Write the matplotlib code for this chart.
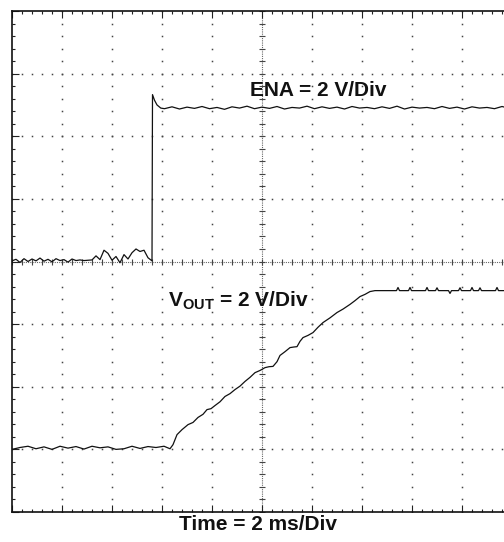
import numpy as np
import matplotlib
matplotlib.use("Agg")
import matplotlib.pyplot as plt

plt.rcParams['font.family'] = ['Liberation Sans', 'DejaVu Sans']
plt.rcParams['mathtext.fontset'] = 'custom'
plt.rcParams['mathtext.rm'] = 'Liberation Sans:bold'
plt.rcParams['mathtext.bf'] = 'Liberation Sans:bold'

# ---- data (time in ms, voltage in V) ----
ena_time = [0.00, 0.16, 0.32, 0.48, 0.64, 0.80, 0.96, 1.12, 1.28, 1.44,
            1.60, 1.76, 1.92, 2.08, 2.24, 2.40, 2.56, 2.72, 2.88, 3.04,
            3.20, 3.36, 3.52, 3.68, 3.84, 4.00, 4.16, 4.32, 4.48, 4.64,
            4.80, 4.96, 5.12, 5.28, 5.44, 5.60,
            5.62, 5.70, 5.80, 5.95,
            6.1, 6.4, 6.7, 7.0, 7.3, 7.6, 7.9, 8.2,
            8.5, 8.8, 9.1, 9.4, 9.7, 10.0, 10.3, 10.6,
            10.9, 11.2, 11.5, 11.8, 12.1, 12.4, 12.7, 13.0,
            13.3, 13.6, 13.9, 14.2, 14.5, 14.8, 15.1, 15.4,
            15.7, 16.0, 16.3, 16.6, 16.9, 17.2, 17.5, 17.8,
            18.1, 18.4, 18.7, 19.0, 19.3, 19.6, 19.9, 20.2]
ena_volt = [0.02, 0.07, -0.03, 0.09, 0.00, 0.08, 0.02, 0.11, 0.01, 0.07,
            -0.01, 0.09, 0.03, 0.06, -0.02, 0.08, 0.03, 0.05, 0.03, 0.04,
            0.05, 0.18, 0.06, 0.36, 0.26, 0.04, 0.16, -0.04, 0.22, 0.08,
            0.28, 0.40, 0.32, 0.36, 0.12, 0.02,
            5.33, 5.15, 5.00, 4.90,
            4.88, 4.94, 4.87, 4.93, 4.89, 4.95, 4.88, 4.92,
            4.86, 4.94, 4.90, 4.96, 4.88, 4.93, 4.89, 4.95,
            4.87, 4.92, 4.90, 4.96, 4.88, 4.94, 4.89, 4.93,
            4.87, 4.95, 4.90, 4.92, 4.88, 4.94, 4.89, 4.96,
            4.87, 4.93, 4.90, 4.92, 4.88, 4.95, 4.89, 4.93,
            4.87, 4.94, 4.90, 4.92, 4.88, 4.95, 4.89, 4.93]

vout_time = [0.00, 0.32, 0.64, 0.96, 1.28, 1.60, 1.92, 2.24, 2.56, 2.88,
             3.20, 3.52, 3.84, 4.16, 4.48, 4.80, 5.12, 5.44, 5.76, 6.08,
             6.32, 6.44, 6.60, 6.80, 7.04, 7.24, 7.44, 7.64, 7.80, 7.96,
             8.12, 8.32, 8.52, 8.72, 8.92, 9.12, 9.32, 9.52, 9.72, 9.92,
             10.12, 10.28, 10.44, 10.60, 10.72, 10.92, 11.12, 11.28, 11.40, 11.52,
             11.64, 11.84, 12.04, 12.24, 12.44, 12.72, 13.00, 13.24, 13.52, 13.72,
             13.92, 14.12, 14.32, 14.52,
             15.38, 15.44, 15.50, 15.86, 15.92, 15.98, 16.54, 16.60, 16.66,
             16.94, 17.00, 17.06, 17.46, 17.52, 17.58, 17.86, 17.92, 17.98,
             18.34, 18.40, 18.46, 18.66, 18.72, 18.78, 19.34, 19.40, 19.46,
             19.74, 19.80, 19.86, 20.2]
vout_volt = [0.00, 0.06, 0.10, 0.02, 0.08, 0.00, 0.10, 0.04, 0.09, 0.01,
             0.10, 0.05, 0.08, 0.00, 0.02, 0.10, 0.03, 0.09, 0.06, 0.10,
             0.02, 0.15, 0.47, 0.63, 0.79, 0.86, 1.02, 1.12, 1.27, 1.30,
             1.40, 1.52, 1.69, 1.78, 1.91, 2.02, 2.17, 2.30, 2.45, 2.52,
             2.61, 2.64, 2.65, 2.80, 3.00, 3.12, 3.25, 3.27, 3.28, 3.45,
             3.57, 3.64, 3.73, 3.90, 4.05, 4.20, 4.37, 4.48, 4.63, 4.75,
             4.88, 4.95, 5.04, 5.07,
             5.07, 5.17, 5.07, 5.07, 5.17, 5.07, 5.07, 5.17, 5.07,
             5.07, 5.16, 5.07, 5.07, 4.98, 5.07, 5.07, 5.16, 5.07,
             5.07, 5.17, 5.07, 5.07, 5.16, 5.07, 5.07, 5.17, 5.07,
             5.07, 5.16, 5.07, 5.07]

volts_per_div = 2.0
ms_per_div = 2.0
ena_offset_div = 0.0
vout_offset_div = -3.0

ena_label = "ENA = 2 V/Div"
vout_label = r"V$_{\mathrm{OUT}}$ = 2 V/Div"
time_label = "Time = 2 ms/Div"

# ---- figure ----
W, H = 504, 542
fig = plt.figure(figsize=(W / 100, H / 100), dpi=100)
ax = fig.add_axes([12 / W, 30 / H, 500 / W, 501 / H])
ax.set_xlim(0, 10 * ms_per_div)
ax.set_ylim(-4, 4)

# graticule dots
gx, gy = [], []
for k in range(1, 10):
    if k == 5:
        continue
    for j in np.arange(-4, 4.001, 0.2):
        gx.append(k * ms_per_div)
        gy.append(j)
for j in range(-3, 4):
    if j == 0:
        continue
    for k in np.arange(0, 10.001, 0.2):
        gx.append(k * ms_per_div)
        gy.append(j)
ax.plot(gx, gy, linestyle='none', marker='s', markersize=1.1,
        markeredgewidth=0, color='#444444', zorder=1)

# center axes
ax.axvline(5 * ms_per_div, color='#666666', lw=0.8, linestyle=(0, (1, 1)), zorder=1)
ax.axhline(0, color='#666666', lw=0.8, linestyle=(0, (1, 1)), zorder=1)
cy_minor = [j for j in np.arange(-4, 4.001, 0.2)]
ax.plot([5 * ms_per_div] * len(cy_minor), cy_minor, linestyle='none',
        marker='_', markersize=5, markeredgewidth=0.8, color='#444444', zorder=1)
cx_minor = [k * ms_per_div for k in np.arange(0, 10.001, 0.2)]
ax.plot(cx_minor, [0] * len(cx_minor), linestyle='none',
        marker='|', markersize=5, markeredgewidth=0.8, color='#444444', zorder=1)

# frame ticks
ax.set_xticks([k * ms_per_div for k in range(11)])
ax.set_xticks([k * ms_per_div for k in np.arange(0, 10.001, 0.2)], minor=True)
ax.set_yticks(list(range(-4, 5)))
ax.set_yticks(list(np.arange(-4, 4.001, 0.2)), minor=True)
ax.tick_params(which='both', direction='in', top=True, right=True,
               labelbottom=False, labelleft=False, color='#222222', width=0.8)
ax.tick_params(which='major', length=5)
ax.tick_params(which='minor', length=2.5)
for s in ax.spines.values():
    s.set_linewidth(1.2)
    s.set_color('#111111')

# traces
ena_div = [v / volts_per_div + ena_offset_div for v in ena_volt]
vout_div = [v / volts_per_div + vout_offset_div for v in vout_volt]
ax.plot(ena_time, ena_div, color='#111111', lw=0.9, zorder=3)
ax.plot(vout_time, vout_div, color='#111111', lw=0.9, zorder=3)

# labels
ax.text(9.52, 2.64, ena_label, fontsize=15, fontweight='bold',
        ha='left', va='baseline', color='#111111', zorder=4)
ax.text(6.24, -0.72, vout_label, fontsize=15, fontweight='bold',
        ha='left', va='baseline', color='#111111', zorder=4)
fig.text(258 / W, 1 - 530 / H, time_label, fontsize=15, fontweight='bold',
         ha='center', va='baseline', color='#111111')

fig.savefig("out.png", dpi=100)
